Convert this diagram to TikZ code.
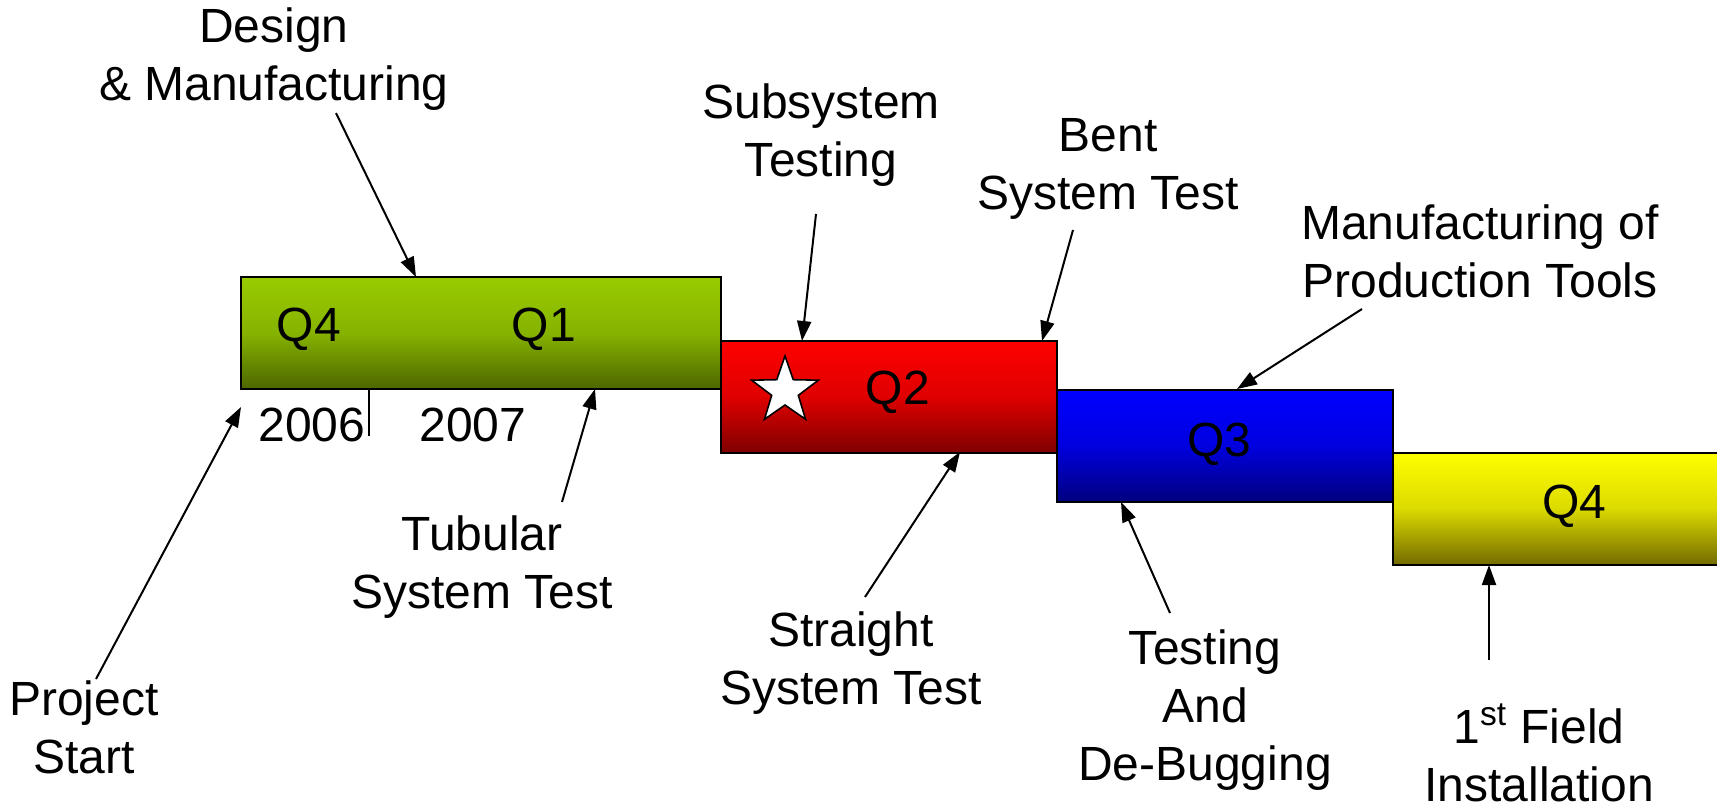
\documentclass[tikz,border=0pt]{standalone}
\usepackage{fontspec}
\setmainfont{Liberation Sans}
\usetikzlibrary{arrows.meta,shapes.geometric}
\definecolor{grntop}{RGB}{153,204,0}
\definecolor{grnbot}{RGB}{77,102,0}
\definecolor{redtop}{RGB}{255,0,0}
\definecolor{redbot}{RGB}{128,0,0}
\definecolor{blutop}{RGB}{0,0,255}
\definecolor{blubot}{RGB}{0,0,128}
\definecolor{yeltop}{RGB}{255,255,0}
\definecolor{yelbot}{RGB}{115,108,0}
\tikzset{
	bar/.style 2 args={draw, line width=1pt, inner sep=0pt, minimum height=56pt,
		top color=#1, bottom color=#2, middle color=#1!75!#2},
	lbl/.style={align=center, inner sep=0pt, font=\fontsize{24}{29}\selectfont},
	pointer/.style={line width=1pt, -{Triangle[length=10pt,width=7pt]}}
}
\begin{document}
\begin{tikzpicture}[x=0.5pt, y=-0.5pt]
		\useasboundingbox (0,0) rectangle (1717,810);
		\clip (0,0) rectangle (1717,810);
		% quarters
		\node[bar={grntop}{grnbot}, minimum width=240pt] (green) at (481,333) {};
		\node[bar={redtop}{redbot}, minimum width=168pt] (red) at (889,396.5) {};
		\node[bar={blutop}{blubot}, minimum width=168pt] (blue) at (1225,445.5) {};
		\node[bar={yeltop}{yelbot}, minimum width=183.5pt] (yellow) at (1576.5,508.5) {};
		\node[lbl] (qa) at (309,329) {Q4};
		\node[lbl] (qb) at (544,329) {Q1};
		\node[lbl] (qc) at (898,392) {Q2};
		\node[lbl] (qd) at (1219,444) {Q3};
		\node[lbl] (qe) at (1574,506) {Q4};
		\node[lbl] (ya) at (312,425) {2006};
		\node[lbl] (yb) at (473,425) {2007};
		\draw[line width=1pt] (369,389) -- (369,436);
		\node[star, star points=5, star point ratio=2.5, minimum size=35pt,
			draw, fill=white, line width=0.8pt, inner sep=0pt] (star) at (785,391) {};
		% milestones
		\node[lbl] (design) at (274,59.5) {Design\\\& Manufacturing};
		\node[lbl] (subsys) at (821,135.5) {Subsystem\\Testing};
		\node[lbl] (bent) at (1108,168.5) {Bent\\System Test};
		\node[lbl] (mfg) at (1480,251) {Manufacturing of\\Production Tools};
		\node[lbl] (tubular) at (482,567.5) {Tubular\\System Test};
		\node[lbl] (project) at (84,727.5) {Project\\Start};
		\node[lbl] (straight) at (851,663.5) {Straight\\System Test};
		\node[lbl] (testing) at (1205,710) {Testing\\And\\De-Bugging};
		\node[lbl] (field) at (1539,753) {1\textsuperscript{st} Field\\Installation};
		\coordinate (designs) at (336,113);
		\coordinate (designt) at (416,277);
		\coordinate (subsyss) at (816,214);
		\coordinate (subsyst) at (802,341);
		\coordinate (bents) at (1073,230);
		\coordinate (bentt) at (1042,341);
		\coordinate (mfgs) at (1362,309);
		\coordinate (mfgt) at (1237,389);
		\coordinate (tubulars) at (562,502);
		\coordinate (tubulart) at (595,389);
		\coordinate (projects) at (96,679);
		\coordinate (projectt) at (241,407);
		\coordinate (straights) at (865,597);
		\coordinate (straightt) at (960,452);
		\coordinate (testings) at (1170,613);
		\coordinate (testingt) at (1121,502);
		\coordinate (fields) at (1489,660);
		\coordinate (fieldt) at (1489,565);
		\draw[pointer] (designs) -- (designt);
		\draw[pointer] (subsyss) -- (subsyst);
		\draw[pointer] (bents) -- (bentt);
		\draw[pointer] (mfgs) -- (mfgt);
		\draw[pointer] (tubulars) -- (tubulart);
		\draw[pointer] (projects) -- (projectt);
		\draw[pointer] (straights) -- (straightt);
		\draw[pointer] (testings) -- (testingt);
		\draw[pointer] (fields) -- (fieldt);
\end{tikzpicture}
\end{document}
